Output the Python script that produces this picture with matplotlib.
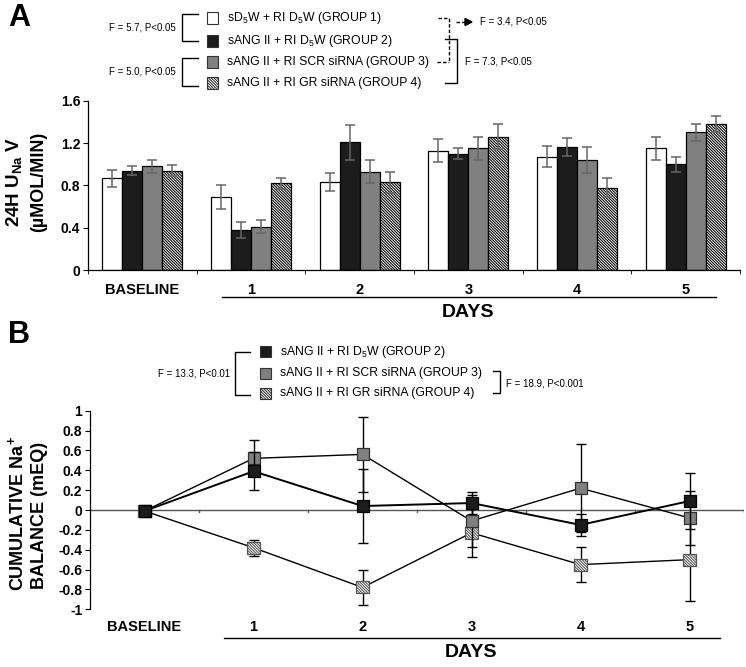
import matplotlib
matplotlib.use('Agg')
import matplotlib.pyplot as plt
import matplotlib.transforms as mtransforms
from matplotlib.patches import Rectangle, Polygon
from matplotlib.lines import Line2D
import numpy as np

plt.rcParams['font.family'] = ['Liberation Sans', 'DejaVu Sans']
plt.rcParams['mathtext.fontset'] = 'custom'
plt.rcParams['mathtext.rm'] = 'Liberation Sans'
plt.rcParams['mathtext.bf'] = 'Liberation Sans:bold'
plt.rcParams['hatch.color'] = 'black'
plt.rcParams['hatch.linewidth'] = 0.75

# ---------------- data ----------------
categories = ['BASELINE', '1', '2', '3', '4', '5']

# Panel A: 24H UNaV (umol/min)
a_g1 = [0.87, 0.69, 0.83, 1.13, 1.07, 1.15]
a_g1_err = [0.08, 0.11, 0.085, 0.11, 0.10, 0.11]
a_g2 = [0.94, 0.38, 1.21, 1.10, 1.16, 1.00]
a_g2_err = [0.04, 0.08, 0.165, 0.05, 0.085, 0.07]
a_g3 = [0.98, 0.41, 0.93, 1.15, 1.04, 1.30]
a_g3_err = [0.06, 0.06, 0.11, 0.11, 0.12, 0.08]
a_g4 = [0.94, 0.82, 0.83, 1.26, 0.78, 1.38]
a_g4_err = [0.055, 0.05, 0.10, 0.12, 0.09, 0.08]

# Panel B: cumulative Na+ balance (mEq)
b_g2 = [-0.01, 0.39, 0.04, 0.07, -0.15, 0.09]
b_g2_err = [0.0, 0.19, 0.37, 0.11, 0.11, 0.28]
b_g3 = [-0.01, 0.52, 0.56, -0.11, 0.22, -0.08]
b_g3_err = [0.0, 0.18, 0.38, 0.26, 0.44, 0.27]
b_g4 = [-0.01, -0.38, -0.78, -0.23, -0.55, -0.50]
b_g4_err = [0.0, 0.08, 0.18, 0.24, 0.18, 0.42]

legend_a = [r'sD$\mathregular{_5}$W + RI D$\mathregular{_5}$W (GROUP 1)',
            r'sANG II + RI D$\mathregular{_5}$W (GROUP 2)',
            'sANG II + RI SCR siRNA (GROUP 3)',
            'sANG II + RI GR siRNA (GROUP 4)']
legend_b = legend_a[1:]

W, H = 746, 667
fig = plt.figure(figsize=(W / 100, H / 100), dpi=100)


def fx(x):
    return x / W


def fy(y):
    return 1 - y / H


def fline(xs, ys, **kw):
    fig.add_artist(Line2D([fx(v) for v in xs], [fy(v) for v in ys],
                          transform=fig.transFigure, color='black',
                          lw=kw.pop('lw', 1.0), **kw))


def fbox(x, y, fc, hatch=None, size=11):
    fig.add_artist(Rectangle((fx(x), fy(y + size / 2)), size / W, size / H,
                             transform=fig.transFigure, facecolor=fc,
                             edgecolor='#333333', lw=0.8, hatch=hatch))


tick_font = dict(family=['Liberation Sans Narrow', 'Liberation Sans'], weight='bold')
white, black, gray = 'white', '#1c1c1c', '#808080'
hatch = '\\' * 12

# ---------------- Panel A ----------------
axA = fig.add_axes([fx(88), fy(270.3), (740 - 88) / W, (270.3 - 100.7) / H])
x = np.arange(len(categories))
w = 0.184
series = [(a_g1, a_g1_err, white, None), (a_g2, a_g2_err, black, None),
          (a_g3, a_g3_err, gray, None), (a_g4, a_g4_err, white, hatch)]
for k, (vals, errs, col, h) in enumerate(series):
    axA.bar(x + (k - 1.5) * w, vals, w, color=col, edgecolor='black', lw=0.9,
            hatch=h, zorder=2)
    axA.errorbar(x + (k - 1.5) * w, vals, yerr=errs, fmt='none', ecolor='#666666',
                 elinewidth=1.1, capsize=3.5, capthick=1.1, zorder=3)
axA.set_xlim(-0.5, 5.5)
axA.set_ylim(0, 1.6)
axA.set_yticks([0, 0.4, 0.8, 1.2, 1.6])
axA.set_yticklabels(['0', '0.4', '0.8', '1.2', '1.6'], fontsize=10, **tick_font)
axA.set_xticks(x)
axA.set_xticklabels(categories, fontsize=10.5, **tick_font)
axA.set_xticks(np.arange(-0.5, 6.0, 1.0), minor=True)
axA.tick_params(axis='x', which='major', length=0, pad=9)
axA.tick_params(axis='x', which='minor', length=3, direction='out')
axA.tick_params(axis='y', length=3.5, direction='out', pad=2)
for s in ['top', 'right']:
    axA.spines[s].set_visible(False)
axA.spines['left'].set_linewidth(0.9)
axA.spines['bottom'].set_linewidth(0.9)
trA = mtransforms.blended_transform_factory(axA.transData, axA.transAxes)
axA.plot([0.73, 5.28], [-0.156, -0.156], transform=trA, color='black', lw=1.0, clip_on=False)
axA.text(3.0, -0.25, 'DAYS', transform=trA, ha='center', va='center', fontsize=14, **tick_font)

fig.text(fx(15), fy(182), r'24H U$_{\mathbf{Na}}$ V', rotation=90, ha='center', va='center',
         fontsize=13.5, weight='bold')
fig.text(fx(39), fy(182), '(µMOL/MIN)', rotation=90, ha='center', va='center',
         fontsize=13, weight='bold')
fig.text(fx(8), fy(18), 'A', fontsize=22, weight='bold', ha='left', va='center')

# legend A
rowsA = [18, 41, 62, 83]
fillsA = [(white, None), (black, None), (gray, None), (white, hatch)]
for r, lab, (fc, h) in zip(rowsA, legend_a, fillsA):
    fbox(207, r, fc, h)
    fig.text(fx(227), fy(r), lab, fontsize=8.8, ha='left', va='center')
fline([198, 182, 182, 198], [14, 14, 41, 41])
fig.text(fx(176), fy(27), 'F = 5.7, P<0.05', fontsize=7, ha='right', va='center')
fline([198, 182, 182, 198], [58, 58, 86, 86])
fig.text(fx(176), fy(72), 'F = 5.0, P<0.05', fontsize=7, ha='right', va='center')
fline([445, 457, 457, 445], [39, 39, 83, 83])
fig.text(fx(465), fy(62), 'F = 7.3, P<0.05', fontsize=7, ha='left', va='center')
fline([438, 449, 449], [18, 18, 62], ls=(0, (2.5, 1.5)))
fline([437, 449], [62, 62], ls=(0, (2.5, 1.5)))
fline([456, 466], [22, 22], ls=(0, (2.5, 1.5)))
fig.add_artist(Polygon([[fx(465), fy(18.5)], [fx(465), fy(25.5)], [fx(472), fy(22)]],
                       closed=True, transform=fig.transFigure, color='black'))
fig.text(fx(480), fy(22), 'F = 3.4, P<0.05', fontsize=7, ha='left', va='center')

# ---------------- Panel B ----------------
axB = fig.add_axes([fx(90), fy(609.3), (744 - 90) / W, (609.3 - 410.7) / H])
axB.axhline(0, color='#555555', lw=1.0, zorder=1)
for b in np.arange(0.5, 6.0, 1.0):
    axB.plot([b, b], [0, -0.025], color='#555555', lw=1.0, zorder=1)
bseries = [(b_g4, b_g4_err, 'white', hatch, '#555555', 1.0),
           (b_g3, b_g3_err, gray, None, '#333333', 1.0),
           (b_g2, b_g2_err, black, None, 'black', 1.4)]
for z, (vals, errs, fc, h, ec, lw) in enumerate(bseries):
    axB.errorbar(x, vals, yerr=errs, fmt='none', ecolor='black', elinewidth=1.0,
                 capsize=3.5, capthick=1.0, zorder=2 + 2 * z)
    axB.plot(x, vals, color='black', lw=lw, zorder=2 + 2 * z)
    axB.scatter(x, vals, marker='s', s=75, facecolor=fc, edgecolor=ec, lw=0.9,
                hatch=h, zorder=3 + 2 * z)
axB.set_xlim(-0.5, 5.5)
axB.set_ylim(-1, 1)
yt = np.round(np.arange(-1, 1.01, 0.2), 1)
axB.set_yticks(yt)
axB.set_yticklabels(['-1', '-0.8', '-0.6', '-0.4', '-0.2', '0', '0.2', '0.4', '0.6', '0.8', '1'],
                    fontsize=10, **tick_font)
axB.set_xticks(x)
axB.set_xticklabels(categories, fontsize=10.5, **tick_font)
axB.tick_params(axis='x', length=0, pad=8)
axB.tick_params(axis='y', length=3.5, direction='out', pad=2)
for s in ['top', 'right', 'bottom']:
    axB.spines[s].set_visible(False)
axB.spines['left'].set_linewidth(0.9)
trB = mtransforms.blended_transform_factory(axB.transData, axB.transAxes)
axB.plot([0.73, 5.28], [-0.143, -0.143], transform=trB, color='black', lw=1.0, clip_on=False)
axB.text(3.0, -0.22, 'DAYS', transform=trB, ha='center', va='center', fontsize=14, **tick_font)

fig.text(fx(17), fy(513), r'CUMULATIVE Na$^{\mathbf{+}}$', rotation=90, ha='center', va='center',
         fontsize=13, weight='bold')
fig.text(fx(40), fy(515), 'BALANCE (mEQ)', rotation=90, ha='center', va='center',
         fontsize=13, weight='bold')
fig.text(fx(8), fy(335), 'B', fontsize=22, weight='bold', ha='left', va='center')

# legend B
rowsB = [351.7, 373, 393.3]
fillsB = [(black, None), (gray, None), (white, hatch)]
for r, lab, (fc, h) in zip(rowsB, legend_b, fillsB):
    fbox(260, r, fc, h)
    fig.text(fx(280), fy(r), lab, fontsize=8.8, ha='left', va='center')
fline([250, 235, 235, 250], [351.7, 351.7, 395, 395])
fig.text(fx(230), fy(373), 'F = 13.3, P<0.01', fontsize=7, ha='right', va='center')
fline([493, 500, 500, 493], [371, 371, 393, 393])
fig.text(fx(506), fy(383), 'F = 18.9, P<0.001', fontsize=7, ha='left', va='center')

fig.savefig('out.png', dpi=100)
